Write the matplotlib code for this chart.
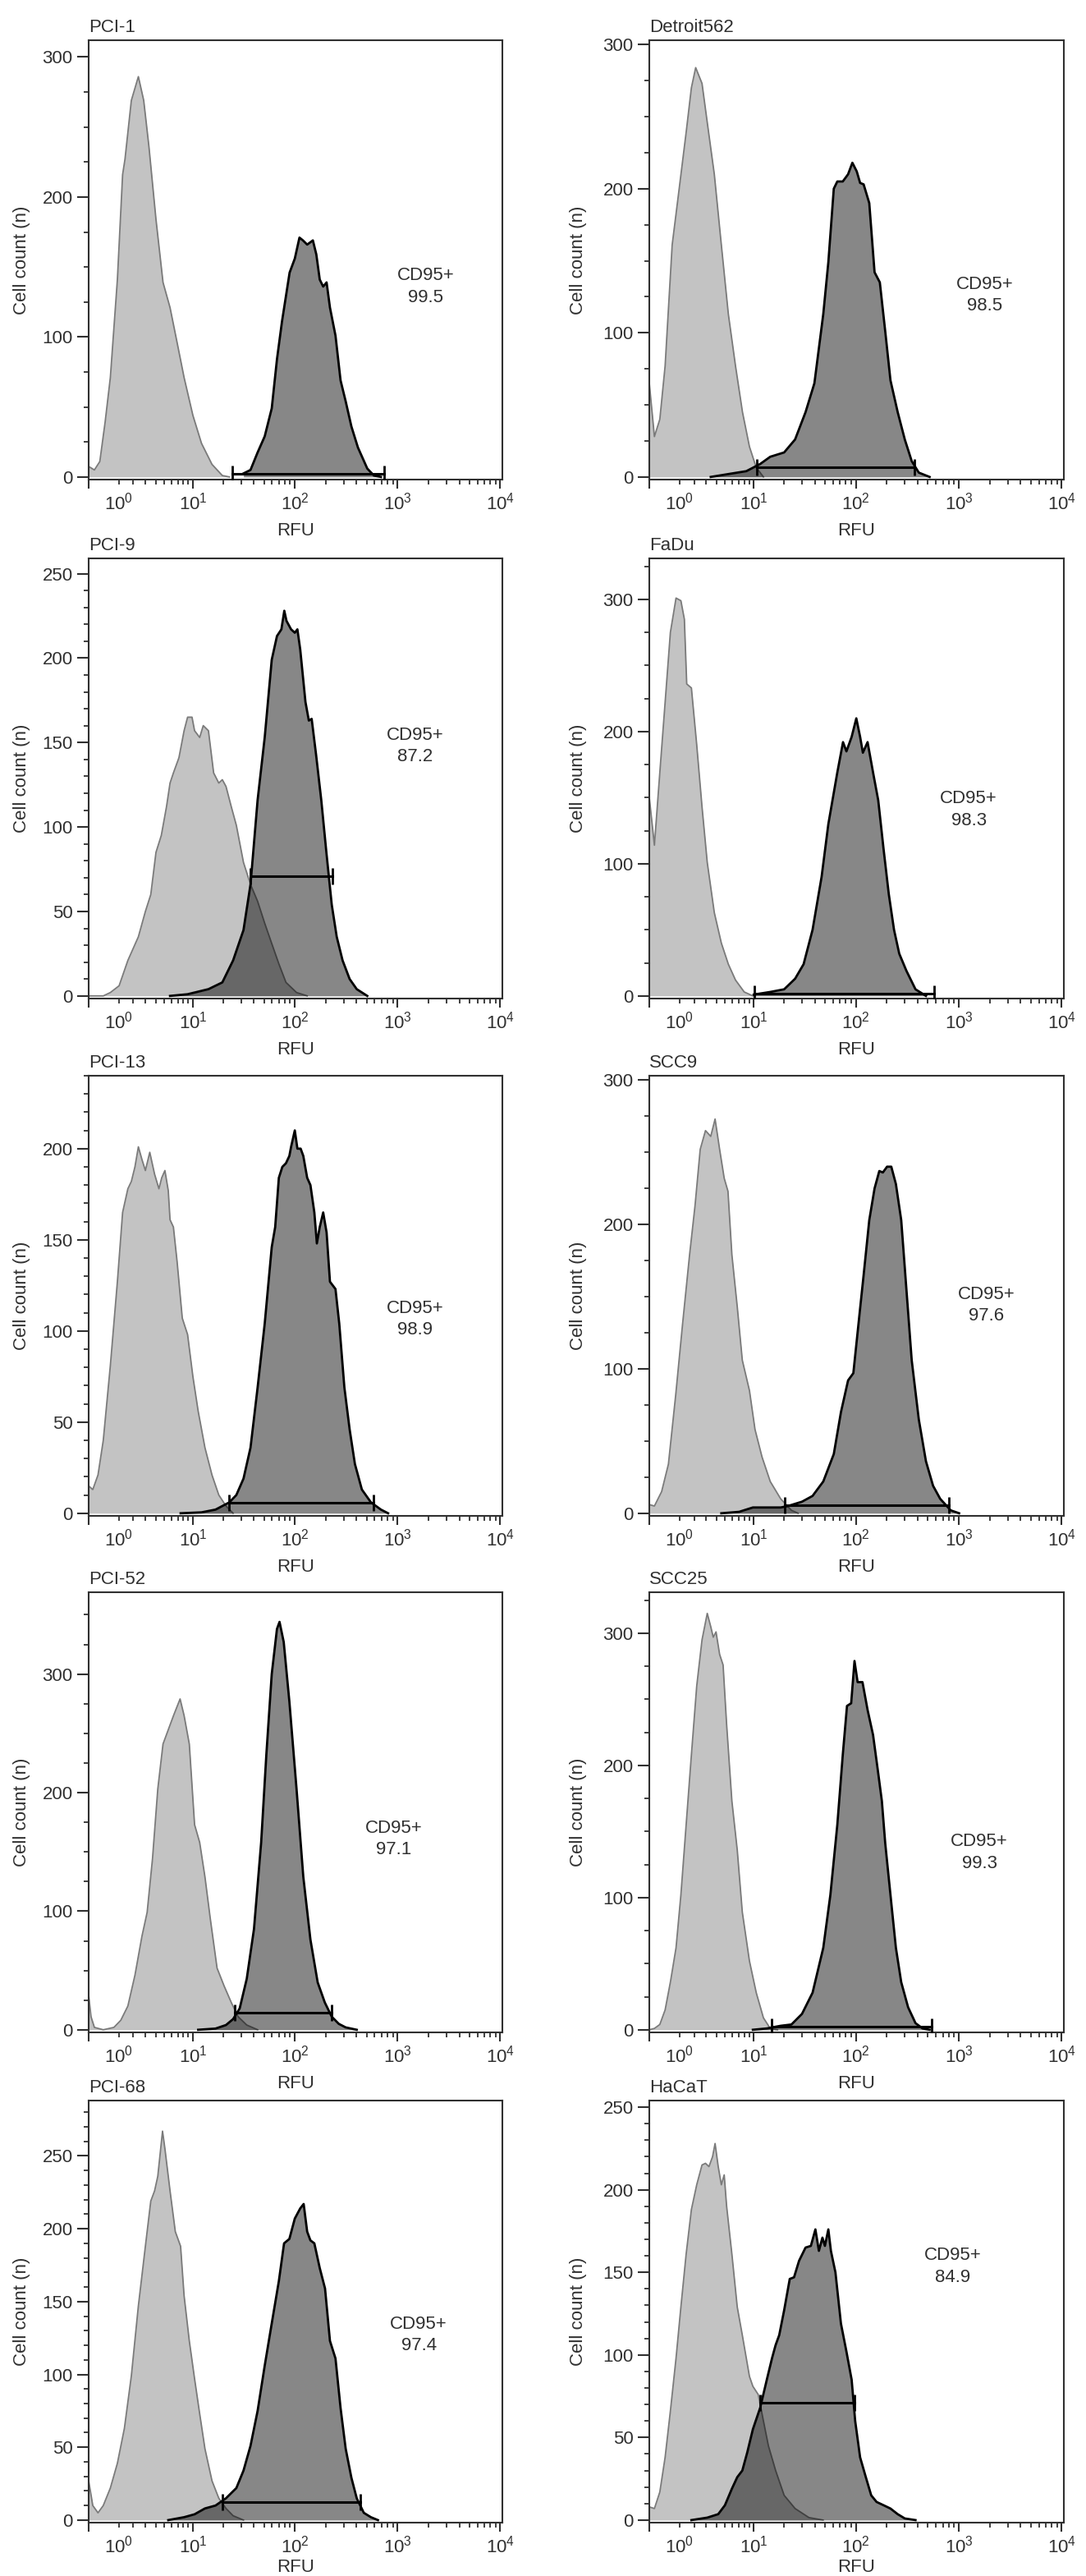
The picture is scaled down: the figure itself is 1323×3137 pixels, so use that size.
import matplotlib
matplotlib.use("Agg")
import matplotlib.pyplot as plt
from matplotlib.ticker import FixedLocator, FixedFormatter, MultipleLocator

plt.rcParams["font.family"] = ["Liberation Sans", "DejaVu Sans"]
plt.rcParams["text.color"] = "#303030"
plt.rcParams["axes.labelcolor"] = "#303030"
plt.rcParams["xtick.color"] = "#303030"
plt.rcParams["ytick.color"] = "#303030"

# ---- data (RFU, cell count) ----
panel_names = ["PCI-1", "Detroit562", "PCI-9", "FaDu", "PCI-13",
               "SCC9", "PCI-52", "SCC25", "PCI-68", "HaCaT"]
cd95_pct = ["99.5", "98.5", "87.2", "98.3", "98.9",
            "97.6", "97.1", "99.3", "97.4", "84.9"]

pci1_neg_rfu = [-0.87, -0.51, -0.18, 0.14, 0.46, 0.90, 1.24, 1.40, 1.85, 2.39, 2.84, 3.32,
                4.04, 4.86, 5.80, 6.89, 8.14, 10.0, 12.2, 15.5, 19.6, 23.0]
pci1_neg_n = [7.5, 5, 11, 39, 71, 141, 216, 227, 269, 286, 269, 236,
              184, 139, 121, 96, 71, 44, 24, 9, 1, 0]
pci1_pos_rfu = [31.6, 37, 43.4, 50.9, 59.6, 67, 75, 89, 100, 111, 120, 132, 150, 162, 175,
                189, 204, 220, 249, 279, 313, 356, 412, 508, 590, 690]
pci1_pos_n = [2.5, 5, 17.5, 29, 49, 84, 111, 146, 156, 171, 169, 166, 169, 159, 141,
              136, 139, 121, 101, 69, 54, 36, 21, 6, 1, 0]

det_neg_rfu = [-0.87, -0.55, -0.22, 0.10, 0.53, 0.97, 1.43, 1.80, 2.12, 2.63, 3.09, 3.78,
               4.56, 5.45, 6.5, 7.68, 9.05, 10.6, 12.5]
det_neg_n = [65, 28, 40, 77, 161, 200, 239, 270, 284, 273, 246, 210,
             161, 113, 77, 45, 21, 6.5, 0]
det_pos_rfu = [3.42, 5.45, 8.4, 11.6, 14.6, 20, 25.6, 32.4, 39.5, 48.2, 54, 61, 66, 74.6,
               84, 92.5, 102, 110, 119, 135, 152, 171, 193, 217, 255, 299, 349, 409, 521]
det_pos_n = [0, 2, 4, 9, 14, 17, 26, 45, 65, 113, 149, 200, 205, 205,
             210, 218, 212, 204, 203, 190, 142, 135, 101, 67, 45, 26, 11, 3, 0]

pci9_neg_rfu = [-0.87, 0.03, 0.46, 1.01, 1.6, 2.39, 2.99, 3.5, 4.04, 4.65, 5.31, 5.8, 6.3,
                7.2, 8.14, 8.84, 9.8, 10.4, 11.7, 12.7, 14.3, 16.1, 18.1, 19.6, 21.3, 24,
                26.9, 31.6, 37, 43.4, 50.9, 59.6, 69.9, 82, 104, 132]
pci9_neg_n = [0, 0, 2, 6, 21, 35, 50, 60, 85, 95, 112, 126, 132,
              141, 157, 165, 165, 157, 153, 160, 157, 132, 126, 128, 124, 112,
              101, 79, 66, 56, 43, 31, 19, 8, 2, 0]
pci9_pos_rfu = [5.8, 8.84, 14.3, 19.6, 25, 31.6, 37, 43.4, 50.9, 59.6, 67, 74, 79, 83, 92,
                100, 106, 113, 127, 137, 146, 161, 181, 203, 229, 256, 292, 342, 401, 508]
pci9_pos_n = [0, 1, 4, 8, 21, 39, 66, 116, 153, 199, 213, 217, 228, 222, 217,
              215, 217, 205, 174, 163, 164, 143, 116, 85, 54, 35, 21, 10, 4, 0]

fadu_neg_rfu = [-0.87, -0.55, -0.22, 0.10, 0.42, 0.77, 1.08, 1.31, 1.47, 1.80, 2.2, 2.63,
                3.09, 3.78, 4.56, 5.45, 6.5, 8.0, 9.8]
fadu_neg_n = [150, 114, 169, 222, 275, 301, 299, 285, 236, 233, 190, 143,
              101, 63, 40, 24, 12, 3, 0]
fadu_pos_rfu = [10, 14.6, 20, 25.6, 31, 37.9, 46.4, 54, 66, 75, 81, 91, 101, 110, 117, 130,
                147, 165, 186, 209, 235, 264, 310, 380, 480]
fadu_pos_n = [1, 3, 5, 13, 24, 50, 90, 130, 169, 192, 185, 196, 210, 196, 184, 192,
              169, 148, 111, 77, 50, 32, 19, 5, 0]

pci13_neg_rfu = [-0.87, -0.61, -0.29, 0.03, 0.46, 0.90, 1.24, 1.6, 1.85, 2.12, 2.39, 2.69,
                 2.99, 3.4, 3.89, 4.37, 4.7, 5.1, 5.55, 5.8, 6.3, 6.89, 7.8, 8.84, 10, 11.3,
                 13.2, 15.5, 18.1, 21.3, 25]
pci13_neg_n = [15, 13, 21, 40, 81, 127, 165, 178, 182, 190, 201, 194,
               188, 198, 186, 178, 184, 188, 177, 161, 157, 138, 107, 98, 75, 56,
               36, 21, 10, 4, 0]
pci13_pos_rfu = [7.5, 12.2, 16.8, 23, 26.9, 31.6, 37, 43.4, 50.9, 59.6, 64.4, 69.9, 75.6,
                 82, 88.5, 92, 100, 106, 114, 121, 132, 142, 155, 164, 175, 189, 204, 220,
                 249, 271, 304, 342, 385, 450, 551, 690, 810]
pci13_pos_n = [0, 0.5, 2, 6, 10, 19, 36, 69, 104, 146, 157, 184, 190,
               192, 196, 201, 210, 200, 200, 196, 184, 180, 165, 148, 157, 165, 154, 127,
               123, 104, 69, 46, 27, 13, 6, 2, 0]

scc9_neg_rfu = [-0.87, -0.55, -0.11, 0.3, 0.75, 1.19, 1.67, 2.07, 2.48, 2.93, 3.42, 3.86,
                4.36, 4.91, 5.4, 5.95, 6.78, 7.65, 9.05, 10.3, 12.1, 14.6, 18.5, 23.6, 27.4]
scc9_neg_n = [6, 5, 15, 34, 82, 131, 179, 213, 252, 265, 261, 273,
              252, 232, 223, 179, 143, 106, 85, 58, 39, 22, 10, 2, 0]
scc9_pos_rfu = [4.56, 7.1, 9.8, 13.5, 18.5, 21.8, 29.9, 37.9, 48.2, 61, 71.6, 84, 94.5, 106,
                119, 135, 152, 169, 183, 201, 221, 245, 276, 310, 349, 409, 480, 563, 660,
                836, 1008]
scc9_pos_n = [0, 1, 4, 4, 4, 5, 8, 12, 22, 41, 70, 92, 97, 131,
              165, 203, 225, 237, 236, 240, 240, 228, 203, 155, 106, 65, 36, 19, 10,
              2, 0]

pci52_neg_rfu = [-0.87, -0.72, -0.51, 0.03, 0.68, 1.12, 1.6, 2.12, 2.69, 3.15, 3.67, 4.24,
                 4.86, 5.55, 6.32, 7.4, 8.14, 9.2, 10.4, 11.7, 13.2, 14.9, 17.4, 20.4, 24,
                 28, 34, 43.4]
pci52_neg_n = [29, 11, 2, 0, 2, 8, 20, 46, 79, 99, 144, 203,
               241, 253, 265, 279, 265, 241, 173, 158, 129, 94, 52, 37, 23,
               11, 4, 0]
pci52_pos_rfu = [11.3, 16.8, 21.3, 25, 29, 34, 40, 47, 52.8, 59.6, 67, 71, 78, 88.5, 104,
                 121, 142, 167, 196, 229, 268, 313, 401]
pci52_pos_n = [0, 1, 4, 9, 18, 43, 85, 158, 232, 300, 338, 344, 327, 277, 203,
               129, 76, 40, 23, 11, 5, 2, 0]

scc25_neg_rfu = [-0.87, -0.55, -0.22, 0.1, 0.42, 0.77, 1.08, 1.43, 1.8, 2.2, 2.63, 3.09,
                 3.42, 3.67, 3.96, 4.36, 4.77, 5.22, 5.95, 6.78, 7.65, 9.05, 10.6, 12.5,
                 14.6, 17.2]
scc25_neg_n = [0, 1, 4, 15, 36, 62, 102, 155, 208, 260, 295, 315,
               305, 297, 301, 284, 276, 231, 173, 136, 89, 52, 28, 9,
               1, 0]
scc25_pos_rfu = [9.8, 13.5, 18.5, 23.6, 29.9, 37.9, 48.2, 56.5, 66, 74.6, 82, 90, 97, 104,
                 116, 130, 147, 165, 179, 193, 217, 245, 276, 322, 380, 445, 521]
scc25_pos_n = [0, 1, 3, 4, 12, 28, 62, 102, 155, 208, 245, 247, 279, 263,
               263, 242, 223, 194, 173, 141, 102, 62, 36, 17, 5, 1, 0]

pci68_neg_rfu = [-0.87, -0.61, -0.29, 0.03, 0.46, 0.9, 1.36, 1.85, 2.39, 2.99, 3.5, 3.89,
                 4.24, 4.8, 5.1, 5.8, 6.6, 7.49, 8.14, 9.2, 10.4, 11.7, 13.2, 15.5, 18.1,
                 21.3, 25, 31.6]
pci68_neg_n = [27, 10, 5, 10, 22, 39, 63, 99, 147, 188, 219, 226,
               236, 267, 255, 226, 198, 188, 154, 123, 97, 73, 49, 27, 15,
               8, 3, 0]
pci68_pos_rfu = [5.55, 8.14, 10.4, 13.2, 16.8, 21.3, 26.9, 31.6, 37, 43.4, 50.9, 59.6, 69.9,
                 78.6, 88.5, 100, 113, 122, 132, 142, 155, 175, 197, 220, 249, 279, 313,
                 356, 401, 470, 551, 645]
pci68_pos_n = [0, 2, 4, 8, 10, 15, 22, 34, 51, 75, 106, 135, 164,
               190, 193, 207, 214, 217, 198, 192, 190, 173, 159, 123, 111, 77, 49,
               29, 15, 5, 2, 0]

hacat_neg_rfu = [-0.87, -0.55, -0.22, 0.1, 0.42, 0.77, 1.08, 1.43, 1.8, 2.2, 2.63, 2.93,
                 3.25, 3.6, 3.86, 4.2, 4.56, 4.91, 5.22, 5.95, 6.78, 7.65, 9.05, 9.8, 11.1,
                 12.5, 14, 16.5, 20, 25.6, 35, 48]
hacat_neg_n = [8, 7, 17, 38, 66, 98, 129, 161, 188, 203, 215, 216,
               214, 220, 228, 214, 203, 209, 190, 161, 129, 112, 87, 81, 76,
               60, 45, 30, 15, 7, 1.5, 0]
hacat_pos_rfu = [1.8, 3.09, 4.2, 5.0, 5.95, 6.78, 7.65, 8.6, 9.8, 11.6, 13.5, 15.2, 16.5,
                 17.9, 20, 22.7, 25, 28, 32.4, 36.5, 40.4, 43.7, 47.3, 50, 54, 57.2, 63.3,
                 71.6, 81, 91, 98.5, 110, 125, 141, 159, 186, 217, 255, 299, 380]
hacat_pos_n = [0, 1.5, 3.6, 9, 19, 26, 30, 41, 55, 68, 85, 98, 106,
               112, 127, 146, 147, 157, 165, 166, 176, 163, 171, 166, 176, 163, 150,
               119, 102, 85, 60, 38, 26, 15, 11, 9, 7, 3.6, 1, 0]

neg_rfu = [pci1_neg_rfu, det_neg_rfu, pci9_neg_rfu, fadu_neg_rfu, pci13_neg_rfu,
           scc9_neg_rfu, pci52_neg_rfu, scc25_neg_rfu, pci68_neg_rfu, hacat_neg_rfu]
neg_n = [pci1_neg_n, det_neg_n, pci9_neg_n, fadu_neg_n, pci13_neg_n,
         scc9_neg_n, pci52_neg_n, scc25_neg_n, pci68_neg_n, hacat_neg_n]
pos_rfu = [pci1_pos_rfu, det_pos_rfu, pci9_pos_rfu, fadu_pos_rfu, pci13_pos_rfu,
           scc9_pos_rfu, pci52_pos_rfu, scc25_pos_rfu, pci68_pos_rfu, hacat_pos_rfu]
pos_n = [pci1_pos_n, det_pos_n, pci9_pos_n, fadu_pos_n, pci13_pos_n,
         scc9_pos_n, pci52_pos_n, scc25_pos_n, pci68_pos_n, hacat_pos_n]

# CD95+ gate (RFU range and the count level where the bar is drawn)
gate_lo = [24.6, 10.8, 37, 10.1, 23, 20.1, 25.9, 15.2, 19.6, 11.6]
gate_hi = [740, 371, 234, 574, 583, 807, 229, 542, 435, 96.8]
gate_n = [2, 7, 70.8, 2, 5.8, 5.3, 14.5, 2.6, 12.5, 71]

# where the percentage label sits (RFU, count)
label_rfu = [1888, 1786, 1486, 1250, 1486, 1858, 925, 1585, 1611, 873]
label_n = [136, 126, 148, 141, 106.5, 144, 161, 134, 127, 153.5]

# y axis: top of range, major and minor tick steps
y_top = [312, 303, 259, 331, 240, 303, 369, 331, 288, 254]
y_major = [100, 100, 50, 100, 50, 100, 100, 100, 50, 50]
y_minor = [25, 25, 10, 25, 10, 25, 25, 25, 10, 10]

X_LEFT, X_RIGHT = -0.87, 1.05e4
DECADES = [10, 100, 1000, 10000]
DECADE_LABELS = [r"$\mathregular{10^{%d}}$" % k for k in range(1, 5)]
MINOR = [m * 10 ** k for k in range(0, 4) for m in range(1, 10) if not (m == 1 and k > 0)]

# ---- layout (pixels of the 1323x3137 canvas) ----
W, H = 1323, 3137
COLS = [(108, 612), (791, 1296)]
ROWS = [(49, 584), (680, 1216), (1310, 1846), (1939, 2475), (2558, 3072)]
RFU_BASELINE = [68, 68, 68, 68, 60]   # px below the axes bottom
FS = 16

fig = plt.figure(figsize=(W / 100, H / 100), dpi=100)

for i, name in enumerate(panel_names):
    r, c = divmod(i, 2)
    left, right = COLS[c]
    top, bottom = ROWS[r]
    ax = fig.add_axes([left / W, 1 - bottom / H, (right - left) / W, (bottom - top) / H])
    ax.set_xscale("asinh", linear_width=2.7)

    ax.fill_between(neg_rfu[i], neg_n[i], 0, color="#c3c3c3", lw=0, zorder=1)
    ax.plot(neg_rfu[i], neg_n[i], color="#7a7a7a", lw=1.3, zorder=2)
    ax.fill_between(pos_rfu[i], pos_n[i], 0, color="black", alpha=0.47, lw=0, zorder=3)
    ax.plot(pos_rfu[i], pos_n[i], color="black", lw=2.0, zorder=4)
    ax.plot([gate_lo[i], gate_hi[i]], [gate_n[i], gate_n[i]], color="black", lw=2.2,
            marker="|", markersize=14, mew=2.0, zorder=5)

    ax.text(label_rfu[i], label_n[i], "CD95+\n" + cd95_pct[i], ha="center", va="center",
            fontsize=FS, linespacing=1.35)

    ax.set_xlim(X_LEFT, X_RIGHT)
    ax.set_ylim(-0.006 * y_top[i], y_top[i])

    ax.xaxis.set_major_locator(FixedLocator([X_LEFT] + DECADES))
    ax.xaxis.set_major_formatter(FixedFormatter([""] + DECADE_LABELS))
    ax.xaxis.set_minor_locator(FixedLocator(MINOR))
    ax.xaxis.set_minor_formatter(FixedFormatter([r"$\mathregular{10^{0}}$"] + [""] * (len(MINOR) - 1)))
    ax.yaxis.set_major_locator(MultipleLocator(y_major[i]))
    ax.yaxis.set_minor_locator(MultipleLocator(y_minor[i]))

    ax.tick_params(axis="x", which="major", length=8, width=1.5, pad=3, labelsize=FS)
    ax.tick_params(axis="x", which="minor", length=4, width=1.3, pad=7, labelsize=FS)
    ax.tick_params(axis="y", which="major", length=10, width=1.5, pad=4, labelsize=FS)
    ax.tick_params(axis="y", which="minor", length=4.5, width=1.3)
    for sp in ax.spines.values():
        sp.set_linewidth(1.5)
        sp.set_color("#303030")

    ax.set_title(name, loc="left", pad=7, fontsize=FS)
    ax.set_ylabel("Cell count (n)", fontsize=FS)
    ax.set_xlabel("RFU", fontsize=FS, va="baseline")
    ax.yaxis.set_label_coords(-0.14 if c == 0 else -0.15, 0.5)
    ax.xaxis.set_label_coords(0.5, -RFU_BASELINE[r] / (bottom - top))

fig.savefig("out.png", dpi=100)
